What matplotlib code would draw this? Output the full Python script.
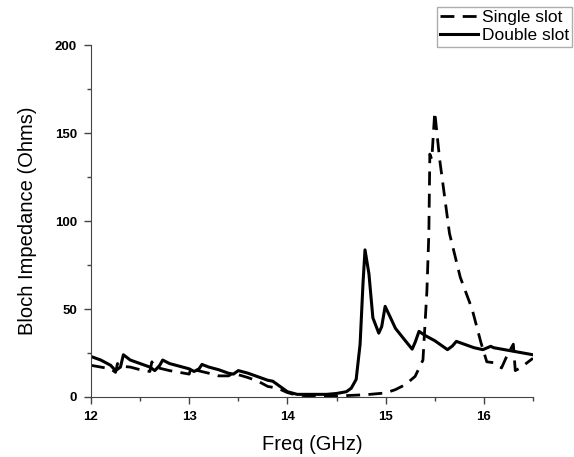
import matplotlib
matplotlib.use("Agg")
import matplotlib.pyplot as plt
from matplotlib.ticker import MultipleLocator

plt.rcParams['font.family'] = ['Liberation Sans', 'DejaVu Sans']

# Single slot (dashed)
single_f = [12.0, 12.1, 12.2, 12.25, 12.27, 12.3, 12.4, 12.5, 12.6, 12.62, 12.65,
            12.8, 12.9, 13.0, 13.02, 13.05, 13.2, 13.3, 13.4, 13.45, 13.6, 13.7,
            13.8, 13.9, 14.0, 14.1, 14.3, 14.5, 14.6, 14.8, 15.0, 15.1, 15.2, 15.3,
            15.38, 15.42, 15.44, 15.45, 15.47, 15.5, 15.55, 15.65, 15.76, 15.88,
            15.97, 16.03, 16.1, 16.18, 16.24, 16.3, 16.32, 16.37, 16.5]
single_z = [18, 17, 16, 14, 19, 17.5, 17, 15.5, 14.5, 20, 17,
            15, 14, 13, 17, 15.5, 13.5, 12, 12, 13.5, 11, 9,
            6, 5, 2.5, 1, 0.5, 0.5, 0.8, 1.3, 2.3, 4.2, 7, 11.7,
            21, 60, 93, 138, 135, 162, 135, 93, 68, 50,
            31, 20, 19.5, 16.5, 24, 30, 15, 16.5, 22]

# Double slot (solid)
double_f = [12.0, 12.1, 12.2, 12.25, 12.3, 12.33, 12.4, 12.5, 12.6, 12.65, 12.7,
            12.73, 12.8, 12.9, 13.0, 13.05, 13.1, 13.13, 13.2, 13.3, 13.4, 13.45,
            13.5, 13.6, 13.7, 13.8, 13.85, 13.9, 14.0, 14.1, 14.2, 14.4, 14.5,
            14.6, 14.65, 14.7, 14.74, 14.77, 14.79, 14.83, 14.87, 14.93, 14.96,
            14.995, 15.05, 15.1, 15.2, 15.27, 15.3, 15.34, 15.4, 15.5, 15.63,
            15.68, 15.72, 15.8, 15.9, 15.99, 16.07, 16.1, 16.2, 16.3, 16.4, 16.5]
double_z = [23, 21, 18, 15, 17, 24, 21, 19, 17, 15, 18,
            21, 19, 17.5, 16, 14.5, 16, 18.5, 17, 15.5, 13.5, 13,
            15, 13.5, 11.5, 9.5, 9, 7, 3, 1.5, 1.5, 1.5, 2,
            3, 5, 10, 30, 65, 83.6, 70, 45, 36.3, 40,
            51.5, 45, 39, 32, 27.2, 31, 37.3, 35, 32, 26.9,
            29, 31.6, 30, 28, 26.9, 28.8, 28, 27, 26, 25, 24]

fig = plt.figure(figsize=(5.74, 4.57), dpi=100)
ax = fig.add_axes([0.1585, 0.1313, 0.77, 0.7702])

ax.plot(single_f, single_z, color='black', lw=2, ls=(0, (5, 3)), label='Single slot')
ax.plot(double_f, double_z, color='black', lw=2.2, label='Double slot')

ax.set_xlim(12, 16.5)
ax.set_ylim(0, 200)
ax.xaxis.set_major_locator(MultipleLocator(1))
ax.xaxis.set_minor_locator(MultipleLocator(0.5))
ax.yaxis.set_major_locator(MultipleLocator(50))
ax.yaxis.set_minor_locator(MultipleLocator(25))
ax.tick_params(which='major', direction='out', length=5, width=1, labelsize=9.5,
               color='#444444', pad=5)
ax.tick_params(which='minor', direction='out', length=3, width=1, color='#444444')
for lbl in ax.get_xticklabels() + ax.get_yticklabels():
    lbl.set_fontweight('bold')
ax.spines['top'].set_visible(False)
ax.spines['right'].set_visible(False)
ax.spines['left'].set_color('#444444')
ax.spines['bottom'].set_color('#444444')

ax.set_xlabel('Freq (GHz)', fontsize=14.5, labelpad=9)
ax.set_ylabel('Bloch Impedance (Ohms)', fontsize=14.5, labelpad=13)

leg = fig.legend(loc='upper right', bbox_to_anchor=(0.997, 0.985), fontsize=12.5,
                 frameon=True, fancybox=False, handlelength=2.2, handletextpad=0.2,
                 borderpad=0.2, labelspacing=0.15, borderaxespad=0)
leg.get_frame().set_edgecolor('#999999')
leg.get_frame().set_linewidth(1)

fig.savefig('out.png', dpi=100)
